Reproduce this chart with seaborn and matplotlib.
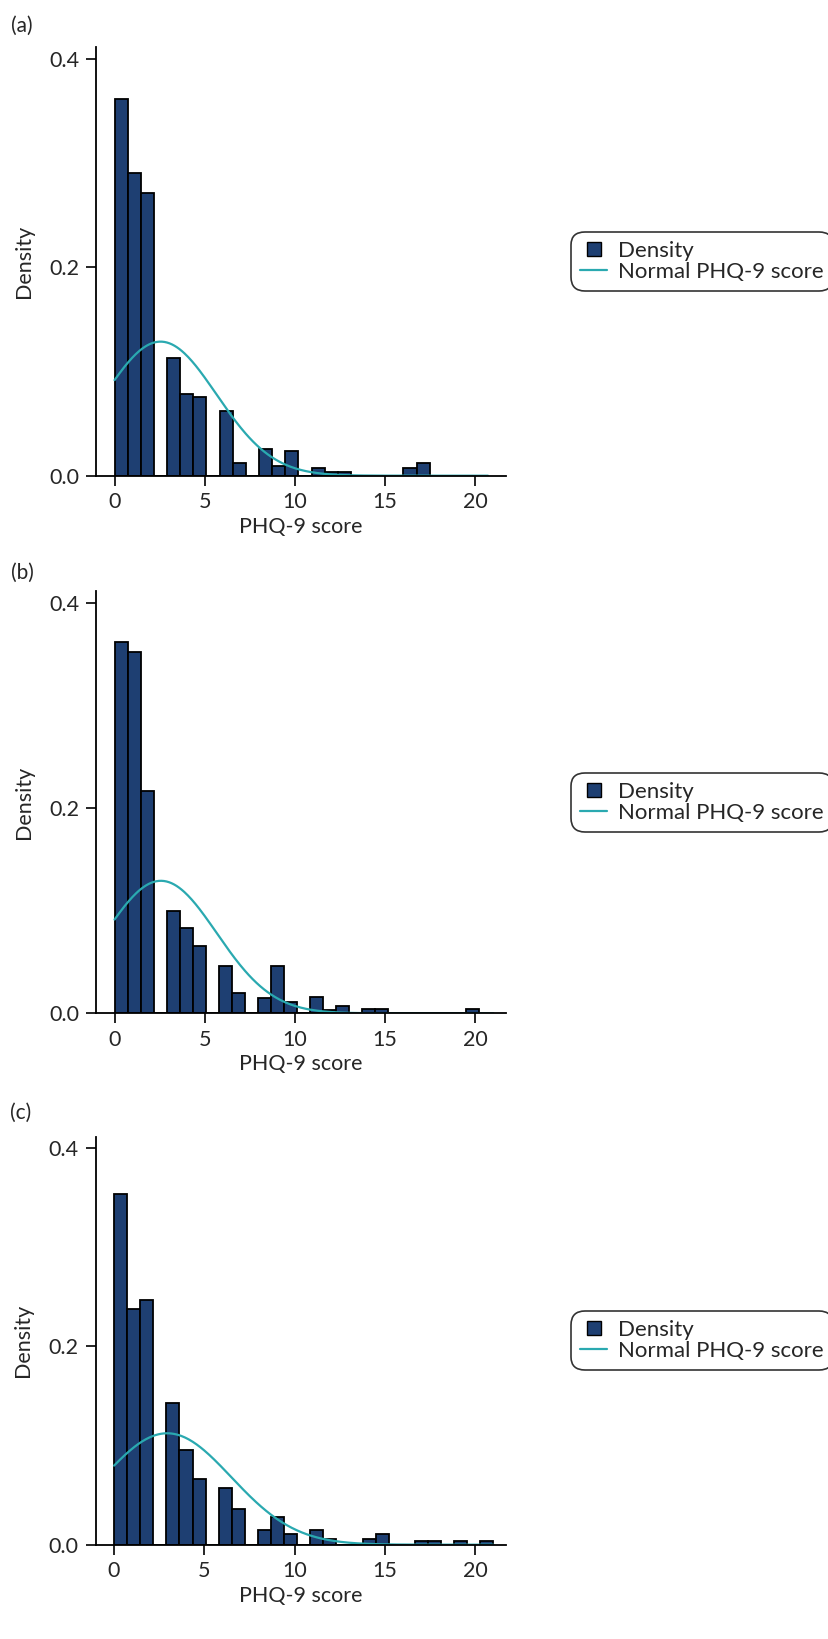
import numpy as np
import pandas as pd
import matplotlib
matplotlib.use("Agg")
import matplotlib.pyplot as plt
from matplotlib.lines import Line2D
import seaborn as sns

# -------------------------
# data
# -------------------------

panel_labels = ["(a)", "(b)", "(c)"]

# bin width and density per bin (bins start at 0)
bin_width_a = 0.728
density_a = [0.362, 0.291, 0.271, 0.0, 0.113, 0.0787, 0.0755, 0.0, 0.062, 0.0118,
             0.0, 0.0253, 0.0096, 0.0237, 0.0, 0.0077, 0.0038, 0.0038, 0.0, 0.0,
             0.0, 0.0, 0.0077, 0.0118]

bin_width_b = 0.722
density_b = [0.362, 0.352, 0.217, 0.0, 0.100, 0.083, 0.066, 0.0, 0.046, 0.020,
             0.0, 0.015, 0.046, 0.011, 0.0, 0.0156, 0.0036, 0.0068, 0.0, 0.0039,
             0.0039, 0.0, 0.0, 0.0, 0.0, 0.0, 0.0, 0.0039]

bin_width_c = 0.724
density_c = [0.354, 0.2375, 0.2466, 0.0, 0.143, 0.0959, 0.0663, 0.0, 0.0569, 0.036,
             0.0, 0.0148, 0.0283, 0.0111, 0.0, 0.0148, 0.0054, 0.0, 0.0, 0.0054,
             0.0108, 0.0, 0.0, 0.0034, 0.0034, 0.0, 0.0034, 0.0, 0.0034]

# normal curve: mean, sd, end of curve
normal_mean = [2.55, 2.57, 2.94]
normal_sd = [3.10, 3.09, 3.55]
normal_end = [20.7, 21.0, 21.0]

x_ticks = [0, 5, 10, 15, 20]
y_ticks = [0.0, 0.2, 0.4]

NAVY = "#1e3f72"
TEAL = "#2aa9b0"

sns.set_style("white")
plt.rcParams["font.family"] = ["Lato", "DejaVu Sans"]
plt.rcParams["font.size"] = 15.5

W, H = 829, 1639
fig = plt.figure(figsize=(W / 100, H / 100), dpi=100)

# axes boxes in pixels: left, top, right, bottom
boxes = [
    (96.5, 47, 506, 475.7),
    (96.5, 591, 506, 1013.3),
    (96.0, 1136.7, 506, 1544.7),
]
label_pos = [(11, 16), (11, 563), (10, 1103)]

panels = [
    (bin_width_a, density_a),
    (bin_width_b, density_b),
    (bin_width_c, density_c),
]

for i, (bw, dens) in enumerate(panels):

    l, t, r, b = boxes[i]
    ax = fig.add_axes([l / W, 1 - b / H, (r - l) / W, (b - t) / H])

    edges = [k * bw for k in range(len(dens) + 1)]
    df = pd.DataFrame({"score": [e + bw / 2 for e in edges[:-1]], "density": dens})

    sns.histplot(
        data=df,
        x="score",
        weights="density",
        bins=edges,
        stat="count",
        color=NAVY,
        edgecolor="black",
        linewidth=1.3,
        alpha=1,
        ax=ax,
    )

    xs = np.linspace(0, normal_end[i], 300)
    mu, sd = normal_mean[i], normal_sd[i]
    ys = np.exp(-0.5 * ((xs - mu) / sd) ** 2) / (sd * np.sqrt(2 * np.pi))
    sns.lineplot(x=xs, y=ys, color=TEAL, linewidth=1.6, ax=ax)

    ax.set_xlim(-1.0, 21.7)
    ax.set_ylim(0, 0.4115)
    ax.set_xticks(x_ticks)
    ax.set_yticks(y_ticks)
    ax.set_yticklabels([f"{v:.1f}" for v in y_ticks])

    for side in ["top", "right"]:
        ax.spines[side].set_visible(False)
    for side in ["left", "bottom"]:
        ax.spines[side].set_linewidth(1.3)
        ax.spines[side].set_color("black")

    ax.tick_params(direction="out", length=7.5, width=1.2, color="black",
                   labelsize=15.5, left=True, bottom=True)
    ax.tick_params(axis="x", pad=4.5)
    ax.tick_params(axis="y", pad=5)

    ax.set_ylabel("Density", fontsize=15.5, labelpad=11)
    ax.set_xlabel("PHQ-9 score", fontsize=15.5, labelpad=3)

    handles = [
        Line2D([], [], marker="s", linestyle="none", markerfacecolor=NAVY,
               markeredgecolor="black", markersize=10),
        Line2D([], [], color=TEAL, linewidth=1.6),
    ]
    leg = fig.legend(
        handles,
        ["Density", "Normal PHQ-9 score"],
        loc="center left",
        bbox_to_anchor=(571.5 / W, 1 - ((t + b) / 2) / H),
        frameon=True,
        fontsize=16,
        handlelength=1.2,
        handletextpad=0.5,
        borderpad=0.4,
        labelspacing=0.05,
        borderaxespad=0,
        fancybox=True,
    )
    leg.get_frame().set_edgecolor("black")
    leg.get_frame().set_linewidth(1.2)
    leg.get_frame().set_boxstyle("round,pad=0.0,rounding_size=0.6")

    lx, ly = label_pos[i]
    fig.text(lx / W, 1 - ly / H, panel_labels[i], fontsize=15, va="top", ha="left")

fig.savefig("out.png", dpi=100)
